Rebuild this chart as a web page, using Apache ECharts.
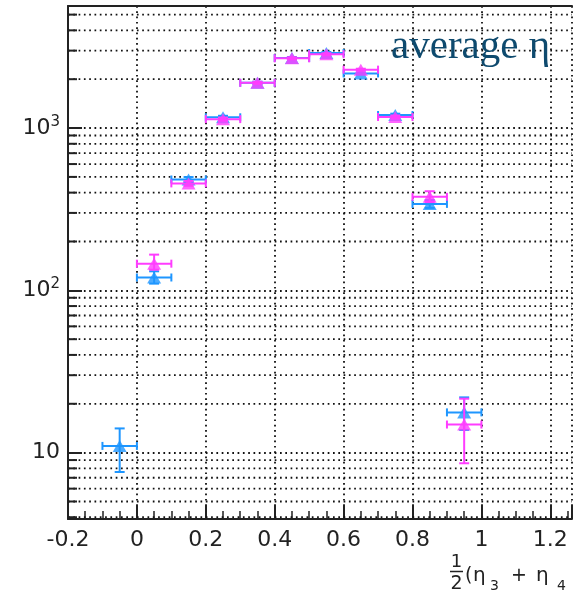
<!DOCTYPE html>
<html>
<head>
<meta charset="utf-8">
<script src="https://cdn.jsdelivr.net/npm/echarts@6/dist/echarts.min.js"></script>
<style>
html,body{margin:0;padding:0;background:#fff;}
#chart{width:575px;height:595px;}
</style>
</head>
<body>
<div id="chart"></div>
<script>
// ---- data ----
const binCenters = [-0.05, 0.05, 0.15, 0.25, 0.35, 0.45, 0.55, 0.65, 0.75, 0.85, 0.95];
const binHalfWidth = 0.05;
const blueValues = [11.0, 120, 482, 1165, 1900, 2700, 2900, 2170, 1203, 341, 17.7];
const blueLow    = [7.6, 110, 466, 1140, 1870, 2660, 2860, 2140, 1180, 322, 13.8];
const blueHigh   = [14.1, 131, 499, 1190, 1930, 2740, 2940, 2200, 1226, 360, 21.9];
const magentaValues = [null, 146, 456, 1135, 1900, 2690, 2850, 2290, 1170, 377, 14.9];
const magentaLow    = [null, 134, 441, 1110, 1870, 2650, 2810, 2260, 1145, 350, 8.6];
const magentaHigh   = [null, 166, 472, 1160, 1930, 2730, 2890, 2320, 1195, 408, 21.5];
const yMajorTicks = [10, 100, 1000];
const yMinorTicks = [4,5,6,7,8,9, 20,30,40,50,60,70,80,90, 200,300,400,500,600,700,800,900, 2000,3000,4000,5000];
const xTickStep = 0.2;
const annotation = 'average \u03b7';

const BLUE = '#1E96FF';
const MAGENTA = '#FF3CFF';
const AXIS = '#222';
const FONT = '"DejaVu Sans", Verdana, sans-serif';
const X_MIN = -0.2, X_MAX = 1.263;

function buildPoints(vals) {
  const out = [];
  for (let i = 0; i < binCenters.length; i++) if (vals[i] != null) out.push([binCenters[i], vals[i]]);
  return out;
}
function buildErr(vals, lo, hi) {
  const out = [];
  for (let i = 0; i < binCenters.length; i++) if (vals[i] != null) out.push([binCenters[i], vals[i], lo[i], hi[i]]);
  return out;
}
function errRender(color) {
  return function (params, api) {
    const x = api.value(0), v = api.value(1), lo = api.value(2), hi = api.value(3);
    const l = api.coord([x - binHalfWidth, v]);
    const r = api.coord([x + binHalfWidth, v]);
    const b = api.coord([x, lo]);
    const t = api.coord([x, hi]);
    const st = { stroke: color, lineWidth: 2 };
    const cap = 4, vcap = 5;
    return {
      type: 'group',
      children: [
        { type: 'line', shape: { x1: l[0], y1: l[1], x2: r[0], y2: r[1] }, style: st },
        { type: 'line', shape: { x1: l[0], y1: l[1] - cap, x2: l[0], y2: l[1] + cap }, style: st },
        { type: 'line', shape: { x1: r[0], y1: r[1] - cap, x2: r[0], y2: r[1] + cap }, style: st },
        { type: 'line', shape: { x1: b[0], y1: b[1], x2: t[0], y2: t[1] }, style: st },
        { type: 'line', shape: { x1: b[0] - vcap, y1: b[1], x2: b[0] + vcap, y2: b[1] }, style: st },
        { type: 'line', shape: { x1: t[0] - vcap, y1: t[1], x2: t[0] + vcap, y2: t[1] }, style: st }
      ]
    };
  };
}

const chart = echarts.init(document.getElementById('chart'), null, { renderer: 'canvas' });
const DOT_DASH = [1.7, 3.6];
const dotted = { color: '#111', width: 1.8, type: DOT_DASH };

chart.setOption({
  animation: false,
  backgroundColor: '#fff',
  grid: { left: 68, top: 6, right: 0, bottom: 76, containLabel: false },
  xAxis: [{
    type: 'value', min: X_MIN, max: X_MAX, interval: xTickStep, position: 'bottom',
    axisLine: { show: true, onZero: false, lineStyle: { color: AXIS, width: 2 } },
    axisTick: { show: true, inside: true, length: 14, lineStyle: { color: AXIS, width: 2 } },
    minorTick: { show: true, splitNumber: 4, length: 8, lineStyle: { color: AXIS, width: 1.5 } },
    splitLine: { show: true, lineStyle: dotted },
    axisLabel: {
      fontSize: 22, color: AXIS, fontFamily: FONT, margin: 10,
      formatter: function (v) {
        const k = v / xTickStep;
        if (Math.abs(k - Math.round(k)) > 1e-6) return '';
        return String(parseFloat(v.toFixed(1)));
      }
    }
  }, {
    type: 'value', min: X_MIN, max: X_MAX, position: 'top',
    axisLine: { show: true, onZero: false, lineStyle: { color: AXIS, width: 2 } },
    axisTick: { show: false }, axisLabel: { show: false }, splitLine: { show: false }
  }],
  yAxis: {
    type: 'log', logBase: 10, min: 3.9, max: 5650,
    axisLine: { show: true, onZero: false, lineStyle: { color: AXIS, width: 2 } },
    axisTick: { show: true, inside: true, length: 14, lineStyle: { color: AXIS, width: 2 } },
    splitLine: { show: true, lineStyle: dotted },
    axisLabel: {
      margin: 8, color: AXIS, fontFamily: FONT,
      formatter: function (v) {
        const e = Math.round(Math.log10(v));
        if (yMajorTicks.indexOf(Math.pow(10, e)) < 0 || Math.abs(v - Math.pow(10, e)) > 1e-6 * v) return '';
        return e === 1 ? '{b|10}' : '{b|10}{s|' + e + '}';
      },
      rich: {
        b: { fontSize: 22, color: AXIS, fontFamily: FONT },
        s: { fontSize: 15, color: AXIS, fontFamily: FONT, padding: [0, 0, 12, 0] }
      }
    }
  },
  series: [
    {
      type: 'custom', silent: true, z: 1,
      data: yMinorTicks.map(v => [X_MIN, v]),
      encode: { x: 0, y: 1 },
      renderItem: function (params, api) {
        const p = api.coord([X_MIN, api.value(1)]);
        const cs = params.coordSys;
        return {
          type: 'group', children: [
            { type: 'line', shape: { x1: cs.x, y1: p[1], x2: cs.x + cs.width, y2: p[1] }, style: { stroke: '#111', lineWidth: 1.8, lineDash: DOT_DASH } },
            { type: 'line', shape: { x1: cs.x, y1: p[1], x2: cs.x + 9, y2: p[1] }, style: { stroke: AXIS, lineWidth: 2 } }
          ]
        };
      }
    },
    { type: 'custom', z: 3, data: buildErr(blueValues, blueLow, blueHigh), encode: { x: 0, y: 1 }, renderItem: errRender(BLUE) },
    { type: 'scatter', z: 3, data: buildPoints(blueValues), symbol: 'triangle', symbolSize: [14, 12], itemStyle: { color: BLUE } },
    { type: 'custom', z: 4, data: buildErr(magentaValues, magentaLow, magentaHigh), encode: { x: 0, y: 1 }, renderItem: errRender(MAGENTA) },
    { type: 'scatter', z: 4, data: buildPoints(magentaValues), symbol: 'triangle', symbolSize: [14, 12], itemStyle: { color: MAGENTA } }
  ],
  graphic: [
    { type: 'text', z: 10, style: { text: annotation, x: 391, y: 47, font: '41px "Liberation Serif", "Times New Roman", serif', fill: '#0E4A6E', textVerticalAlign: 'middle' } },
    { type: 'text', z: 10, style: { text: '1', x: 456.5, y: 562, font: '18px ' + FONT, fill: AXIS, textAlign: 'center', textVerticalAlign: 'middle' } },
    { type: 'line', z: 10, shape: { x1: 450, y1: 571.5, x2: 463, y2: 571.5 }, style: { stroke: AXIS, lineWidth: 1.5 } },
    { type: 'text', z: 10, style: { text: '2', x: 456.5, y: 584, font: '19px ' + FONT, fill: AXIS, textAlign: 'center', textVerticalAlign: 'middle' } },
    { type: 'text', z: 10, style: { text: '(', x: 465, y: 576, font: '19px ' + FONT, fill: AXIS, textVerticalAlign: 'middle' } },
    { type: 'text', z: 10, style: { text: '\u03b7', x: 473, y: 576, font: '20px ' + FONT, fill: AXIS, textVerticalAlign: 'middle' } },
    { type: 'text', z: 10, style: { text: '3', x: 490, y: 586, font: '14px ' + FONT, fill: AXIS, textVerticalAlign: 'middle' } },
    { type: 'text', z: 10, style: { text: '+', x: 511, y: 576, font: '19px ' + FONT, fill: AXIS, textVerticalAlign: 'middle' } },
    { type: 'text', z: 10, style: { text: '\u03b7', x: 536, y: 576, font: '20px ' + FONT, fill: AXIS, textVerticalAlign: 'middle' } },
    { type: 'text', z: 10, style: { text: '4', x: 557, y: 586, font: '14px ' + FONT, fill: AXIS, textVerticalAlign: 'middle' } }
  ]
});
</script>
</body>
</html>
